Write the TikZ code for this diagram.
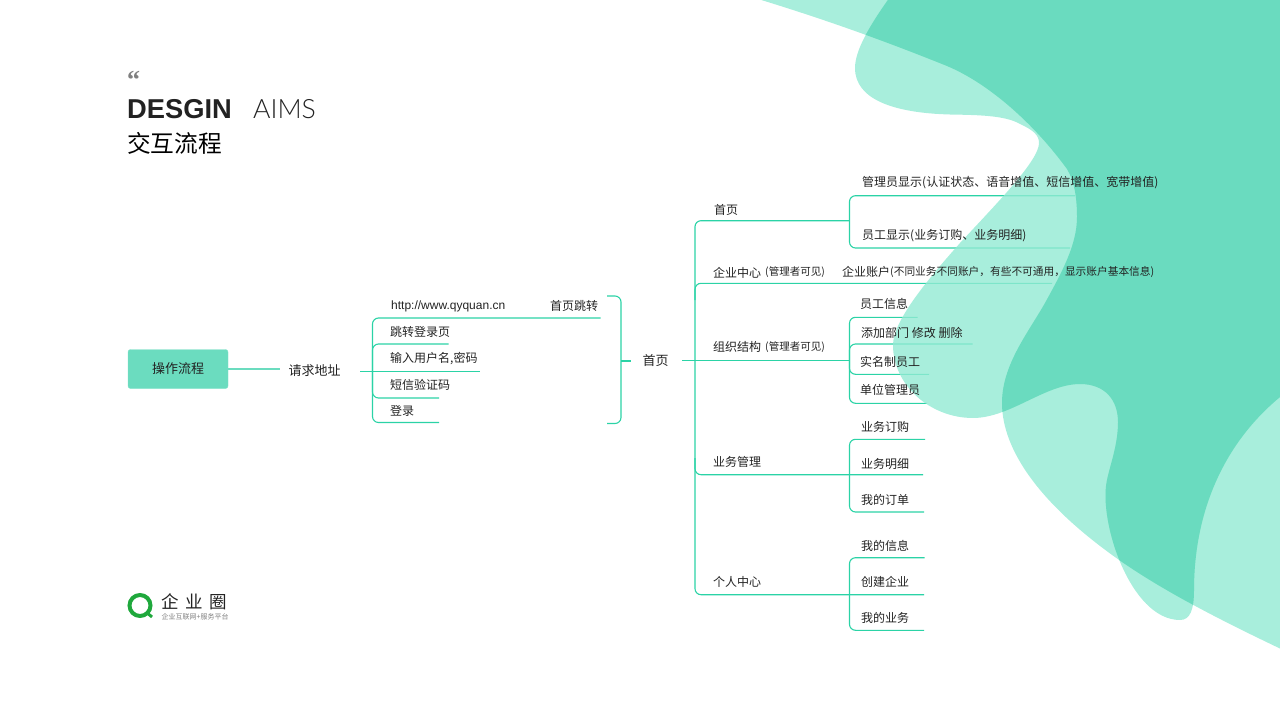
\documentclass[tikz,border=0pt]{standalone}
\usepackage{fontspec}
\usetikzlibrary{backgrounds}
\setmainfont{Noto Sans CJK SC}
\newfontfamily\latinfont{Liberation Sans}
\newfontfamily\quotefont{Liberation Serif}
\newfontfamily\lightfont{Lato Light}
\definecolor{branchgreen}{HTML}{2BD3A6}
\definecolor{boxgreen}{HTML}{6BDCBF}
\definecolor{blobgreen}{RGB}{146,234,211}
\definecolor{overlapgreen}{RGB}{96,216,185}
\definecolor{logogreen}{HTML}{1FA83C}
\definecolor{inkgray}{HTML}{222222}
\tikzset{
    branch/.style={draw=branchgreen,line width=1.1pt,rounded corners=6pt},
    label/.style={anchor=west,inner sep=0pt,text=inkgray,font=\fontsize{12}{12}\selectfont},
    small/.style={label,font=\fontsize{10.5}{11}\selectfont},
    bigger/.style={anchor=center,inner sep=0pt,text=inkgray,font=\fontsize{13}{13}\selectfont}
}
\newcommand{\widecomma}{\char"FF0C\relax}
\newcommand{\blobA}{(758,-1) .. controls (830,21) and (890,43) .. (947,66) .. controls (990,84) and (1035,125) .. (1067,169) .. controls (1075,182) and (1077,200) .. (1077,217) .. controls (1077,245) and (1062,272) .. (1045,303) .. controls (1028,333) and (1002,365) .. (1002,403) .. controls (1002,450) and (1040,505) .. (1122,562) .. controls (1170,595) and (1230,625) .. (1300,658) -- (1300,-10) -- cycle}
\newcommand{\blobB}{(890,-3) .. controls (870,25) and (855,50) .. (855,68) .. controls (855,100) and (895,113) .. (950,114.5) .. controls (975,115) and (1005,115) .. (1020,124) .. controls (1033,130) and (1039,135) .. (1039,143) .. controls (1039,160) and (1000,200) .. (960,243) .. controls (930,277) and (893,320) .. (893,345) .. controls (893,385) and (930,418) .. (973,418) .. controls (1010,418) and (1045,384) .. (1080,384) .. controls (1105,384) and (1118,400) .. (1118,422) .. controls (1118,445) and (1110,465) .. (1107,480) .. controls (1098,520) and (1130,620) .. (1180,620) .. controls (1190,620) and (1194,610) .. (1194,590) .. controls (1194,510) and (1225,440) .. (1285,393) -- (1300,-10) -- cycle}
\begin{document}
\begin{tikzpicture}[x=1pt,y=-1pt]
    \useasboundingbox (0,0) rectangle (1280,720);
    \node[anchor=west,inner sep=0pt,text=gray,font=\quotefont\bfseries\fontsize{26}{26}\selectfont] (quote) at (127,80) {“};
    \node[anchor=base west,inner sep=0pt,text=inkgray,font=\latinfont\bfseries\fontsize{27.3}{28}\selectfont] (design) at (127,118) {DESGIN};
    \node[anchor=base west,inner sep=0pt,text=inkgray,font=\lightfont\fontsize{26.6}{28}\selectfont] (aims) at (253,118) {AIMS};
    \node[anchor=west,inner sep=0pt,text=black,font=\fontsize{23.7}{24}\selectfont] (subtitle) at (127,143) {交互流程};
    \node[draw=boxgreen!85!white,fill=boxgreen,rounded corners=2.5pt,minimum width=100pt,minimum height=39pt,inner sep=0pt,text=inkgray,font=\fontsize{13}{13}\selectfont] (flow) at (178,369) {操作流程};
    \node[bigger] (request) at (314.7,371) {请求地址};
    \node[bigger] (start) at (655.5,361) {首页};
    \node[label,font=\latinfont\fontsize{12}{12}\selectfont] (url) at (391,306.5) {http://www.qyquan.cn};
    \node[label] (jump) at (550,305.5) {首页跳转};
    \node[label] (login) at (390,332) {跳转登录页};
    \node[label] (account) at (390,358.5) {输入用户名,密码};
    \node[label] (sms) at (390,385) {短信验证码};
    \node[label] (enter) at (390,411) {登录};
    \node[label] (home) at (714,210) {首页};
    \node[label] (company) at (713,272.5) {企业中心};
    \node[small] (companynote) at (765,272.5) {(管理者可见)};
    \node[label] (org) at (713,347) {组织结构};
    \node[small] (orgnote) at (765,347) {(管理者可见)};
    \node[label] (business) at (713,462) {业务管理};
    \node[label] (person) at (713,582) {个人中心};
    \node[label] (admin) at (862,183) {管理员显示(认证状态、语音增值、短信增值、宽带增值)};
    \node[label] (staff) at (862,236) {员工显示(业务订购、业务明细)};
    \node[label] (acct) at (842,271.5) {企业账户};
    \node[small,font=\fontsize{10.7}{11}\selectfont] (acctnote) at (890,271.5) {(不同业务不同账户\widecomma 有些不可通用\widecomma 显示账户基本信息)};
    \node[label] (staffinfo) at (860,303.5) {员工信息};
    \node[label] (dept) at (861,332.5) {添加部门 修改 删除};
    \node[label] (realname) at (860,361.5) {实名制员工};
    \node[label] (unit) at (860,390) {单位管理员};
    \node[label] (order) at (861,426.5) {业务订购};
    \node[label] (detail) at (861,463.5) {业务明细};
    \node[label] (myorder) at (861,499.5) {我的订单};
    \node[label] (myinfo) at (861,545.5) {我的信息};
    \node[label] (create) at (861,582) {创建企业};
    \node[label] (mybiz) at (861,618) {我的业务};
    \node[anchor=west,inner sep=0pt,text=inkgray,font=\fontsize{17.5}{18}\selectfont] (logotext) at (161.5,601.5) {企\hspace{6.5pt}业\hspace{6.5pt}圈};
    \node[anchor=west,inner sep=0pt,text=gray,font=\fontsize{7}{8}\selectfont] (logonote) at (161.5,617) {企业互联网+服务平台};
    \coordinate (ringc) at (140,605.5);
    \coordinate (tailin) at (146,612);
    \coordinate (tailout) at (152,617);
    \draw[logogreen,line width=4pt] (ringc) circle (10.5pt);
    \draw[logogreen,line width=3pt] (tailin) -- (tailout);
    \coordinate (bindL) at (360,371.3);
    \coordinate (bindR) at (480,371.3);
    \coordinate (flowstub) at (280,369);
    \coordinate (jumpend) at (600.5,318);
    \coordinate (loginend) at (448.5,344);
    \coordinate (smsend) at (439,398);
    \coordinate (enterend) at (439,422.5);
    \coordinate (spineA) at (372.5,318);
    \coordinate (spineB) at (372.5,422.5);
    \coordinate (spineC) at (372.5,344);
    \coordinate (spineD) at (372.5,398);
    \coordinate (capT) at (607,296);
    \coordinate (capB) at (607,423.5);
    \coordinate (capX) at (621,361);
    \coordinate (capS) at (631,361);
    \coordinate (trunkin) at (682,360.5);
    \coordinate (trunkout) at (849.5,360.5);
    \coordinate (trunkT) at (695,220.7);
    \coordinate (trunkB) at (695,594.7);
    \coordinate (homefork) at (849.5,220.7);
    \coordinate (companyend) at (1052,283.3);
    \coordinate (companystart) at (695,283.3);
    \coordinate (businessstart) at (695,474.7);
    \coordinate (businessend) at (923,474.7);
    \coordinate (personend) at (924,594.7);
    \coordinate (adminend) at (1075,195.7);
    \coordinate (staffend) at (1070,248);
    \coordinate (staffinfoend) at (917.7,317.3);
    \coordinate (deptend) at (972.7,344);
    \coordinate (realnameend) at (929,374.3);
    \coordinate (unitend) at (927,403.3);
    \coordinate (orderend) at (925,439.3);
    \coordinate (myorderend) at (924,512);
    \coordinate (myinfoend) at (924.5,557.7);
    \coordinate (mybizend) at (924,630.3);
    \begin{scope}[on background layer]
        \draw[draw=boxgreen,line width=1.3pt] (flow.east) -- (flowstub);
        \draw[branch] (bindL) -- (bindR);
        \draw[branch] (jumpend) -- (spineA) -- (spineB) -- (enterend);
        \draw[branch] (loginend) -- (spineC) -- (spineD) -- (smsend);
        \draw[branch] (capT) -| (capX) |- (capB);
        \draw[branch] (capX) -- (capS);
        \draw[branch] (trunkin) -- (trunkout);
        \draw[branch] (homefork) -- (trunkT) -- (trunkB) -- (personend);
        \draw[branch] (companyend) -- (companystart) -- (695,300);
        \draw[branch] (695,458) -- (businessstart) -- (businessend);
        \draw[branch] (adminend) -| (homefork) |- (staffend);
        \draw[branch] (staffinfoend) -| (trunkout) |- (unitend);
        \draw[branch] (deptend) -| (trunkout) |- (realnameend);
        \draw[branch] (orderend) -| (849.5,474.7) |- (myorderend);
        \draw[branch] (myinfoend) -| (849.5,594.7) |- (mybizend);
        \fill[blobgreen,opacity=.8] \blobA;
        \fill[blobgreen,opacity=.8] \blobB;
        \begin{scope}
            \clip \blobA;
            \fill[overlapgreen,opacity=.8] \blobB;
        \end{scope}
    \end{scope}
\end{tikzpicture}
\end{document}
